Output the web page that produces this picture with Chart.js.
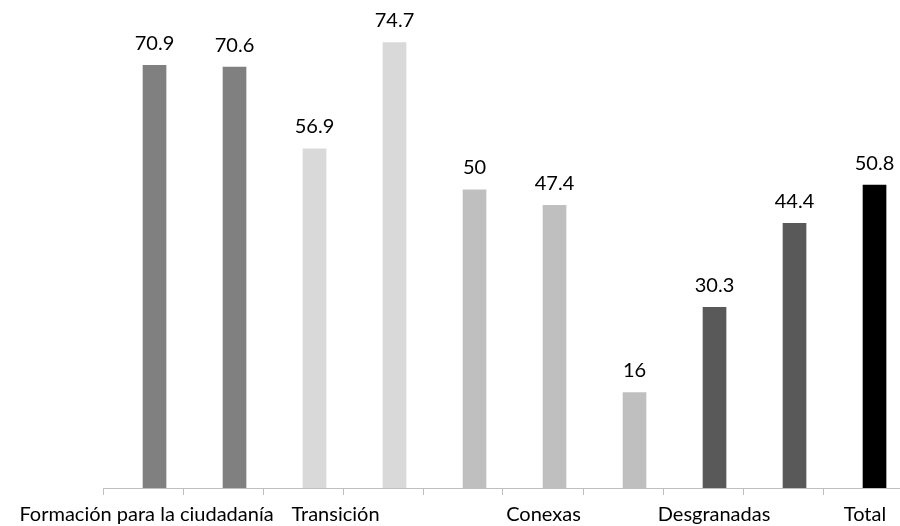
<!DOCTYPE html>
<html>
<head>
<meta charset="utf-8">
<script src="https://cdn.jsdelivr.net/npm/chart.js@4/dist/chart.umd.min.js"></script>
<style>
  html, body { margin: 0; padding: 0; background: #fff; }
  #wrap { width: 900px; height: 526px; }
</style>
</head>
<body>
<div id="wrap"><canvas id="chart"></canvas></div>
<script>
// data
const values = [70.9, 70.6, 56.9, 74.7, 50, 47.4, 16, 30.3, 44.4, 50.8];
const barColors = ["#808080", "#808080", "#d9d9d9", "#d9d9d9", "#bfbfbf",
                   "#bfbfbf", "#bfbfbf", "#595959", "#595959", "#000000"];
const groupLabels = ["Formación para la ciudadanía", "Transición", "Conexas", "Desgranadas", "Total"];
// where each group label sits on the x axis (bar index units)
const groupLabelAt = [0.044, 2.406, 5.006, 7.138, 9.025];

const BAR_SHIFT = 0.144; // bars sit a bit right of the category centre
const FONT = "Lato";
const AXIS_COLOR = "#bfbfbf";

const points = values.map((v, i) => ({ x: i + BAR_SHIFT, y: v }));
const boundaries = values.map((v, i) => i - 0.5);

// value labels above each bar
const valueLabels = {
  id: "valueLabels",
  afterDatasetsDraw(chart) {
    const ctx = chart.ctx;
    const meta = chart.getDatasetMeta(0);
    ctx.save();
    ctx.font = "20px " + FONT;
    ctx.fillStyle = "#000";
    ctx.textAlign = "center";
    ctx.textBaseline = "middle";
    meta.data.forEach((bar, i) => {
      ctx.fillText(String(values[i]), bar.x, bar.y - 22);
    });
    ctx.restore();
  }
};

new Chart(document.getElementById("chart"), {
  type: "bar",
  data: {
    datasets: [{
      data: points,
      backgroundColor: barColors,
      borderWidth: 0,
      barThickness: 23
    }]
  },
  options: {
    responsive: true,
    maintainAspectRatio: false,
    animation: false,
    layout: { padding: { left: 103, top: 11, right: 0, bottom: 0 } },
    plugins: {
      legend: { display: false },
      tooltip: { enabled: false }
    },
    scales: {
      x: {
        type: "linear",
        offset: false,
        min: -0.5,
        max: 9.4625,
        afterBuildTicks(scale) {
          const all = boundaries.concat(groupLabelAt).sort((a, b) => a - b);
          scale.ticks = all.map(v => ({ value: v }));
        },
        afterFit(scale) {
          scale.height = 38;
          scale.paddingLeft = 0;
          scale.paddingRight = 0;
        },
        border: { display: true, color: AXIS_COLOR, width: 1 },
        grid: {
          offset: false,
          drawOnChartArea: false,
          drawTicks: true,
          tickLength: 7,
          tickColor: (c) => (c.tick && groupLabelAt.includes(c.tick.value)) ? "rgba(0,0,0,0)" : AXIS_COLOR
        },
        ticks: {
          autoSkip: false,
          maxRotation: 0,
          padding: 8,
          color: "#000",
          font: { family: FONT, size: 20 },
          callback: (v) => {
            const k = groupLabelAt.indexOf(v);
            return k >= 0 ? groupLabels[k] : "";
          }
        }
      },
      y: {
        display: false,
        min: 0,
        max: 80
      }
    }
  },
  plugins: [valueLabels]
});
</script>
</body>
</html>
